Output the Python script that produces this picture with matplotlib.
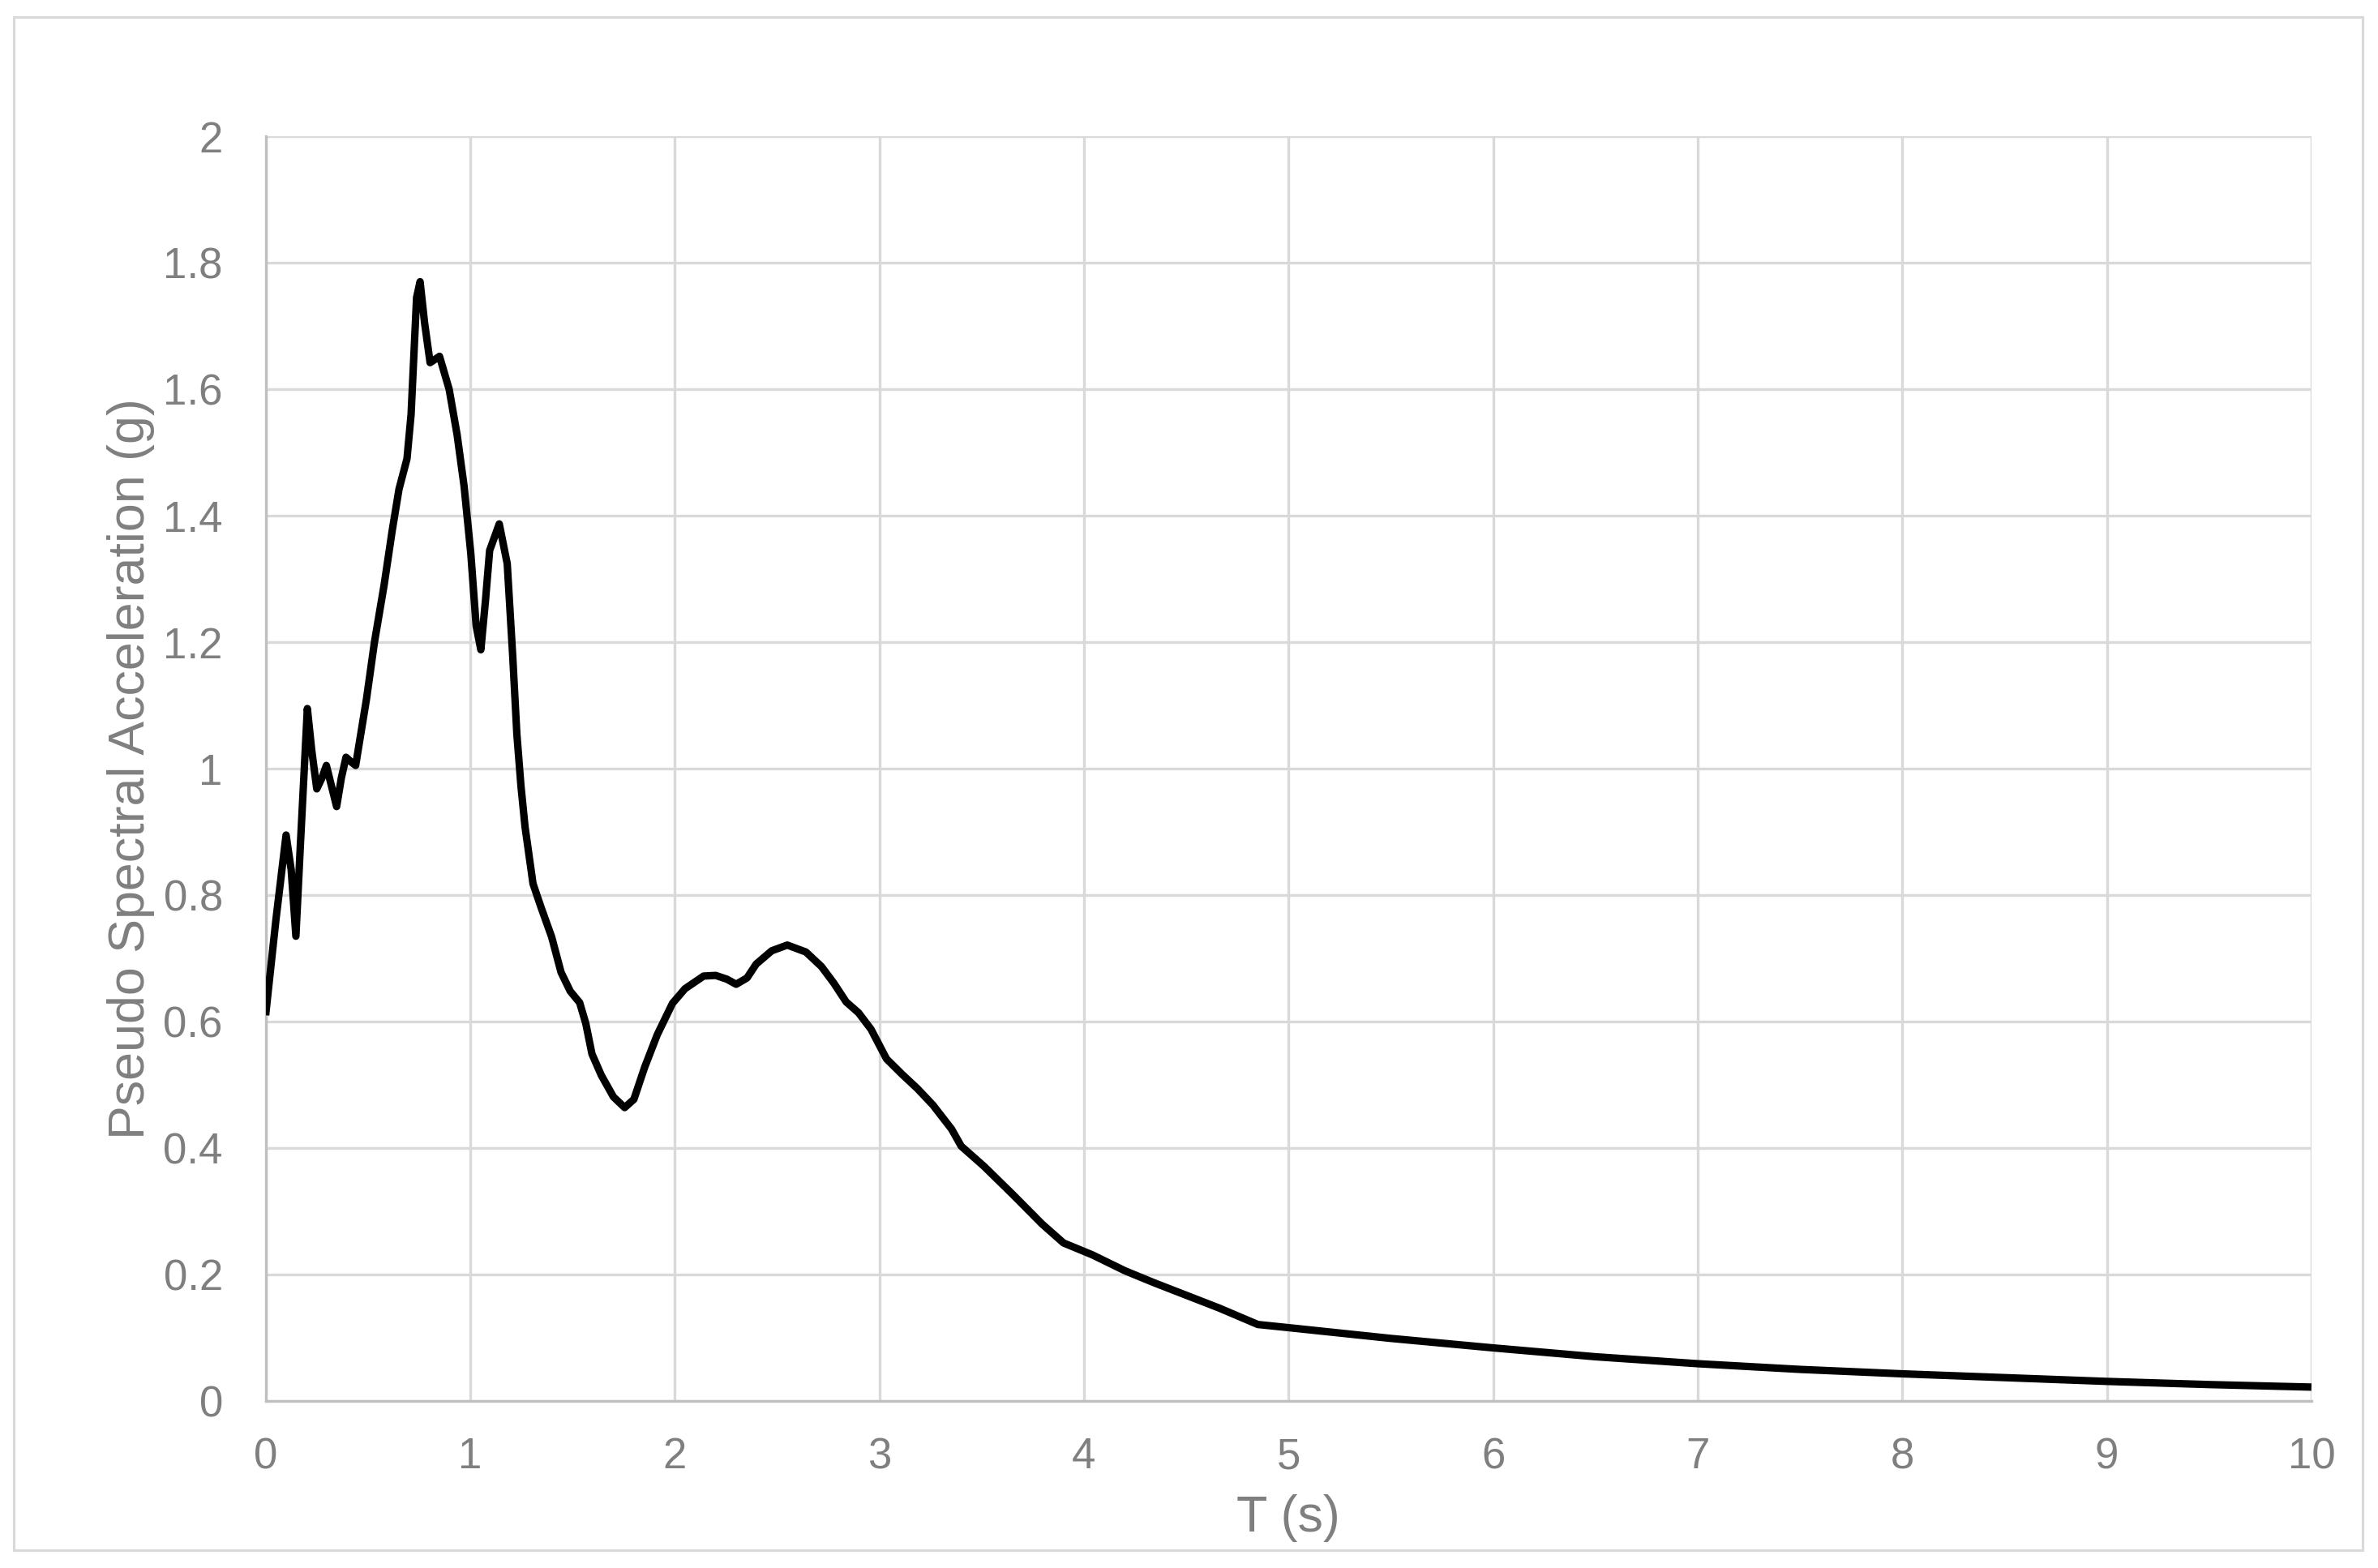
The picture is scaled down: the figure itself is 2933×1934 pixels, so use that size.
import matplotlib
matplotlib.use("Agg")
import matplotlib.pyplot as plt
from matplotlib.patches import Rectangle

plt.rcParams['font.family'] = ['Liberation Sans', 'DejaVu Sans']

period_s = [0.0, 0.05, 0.10, 0.125, 0.148, 0.17, 0.204, 0.225, 0.25, 0.275, 0.297, 0.32, 0.347, 0.37,
            0.393, 0.42, 0.44, 0.493, 0.532, 0.579, 0.619, 0.652, 0.691, 0.711, 0.738, 0.755, 0.777,
            0.804, 0.85, 0.897, 0.936, 0.970, 1.003, 1.029, 1.052, 1.075, 1.095, 1.142, 1.181, 1.208,
            1.228, 1.248, 1.268, 1.307, 1.347, 1.398, 1.444, 1.489, 1.535, 1.565, 1.595, 1.641, 1.70,
            1.755, 1.80, 1.853, 1.914, 1.989, 2.05, 2.141, 2.20, 2.255, 2.30, 2.353, 2.398, 2.474,
            2.55, 2.641, 2.717, 2.777, 2.838, 2.898, 2.959, 3.035, 3.11, 3.186, 3.262, 3.353, 3.40,
            3.512, 3.654, 3.795, 3.90, 4.042, 4.20, 4.343, 4.502, 4.661, 4.85, 5.0, 5.5, 6.0, 6.5,
            7.0, 7.5, 8.0, 8.5, 9.0, 9.5, 10.0]
psa_g = [0.61, 0.76, 0.895, 0.84, 0.735, 0.88, 1.095, 1.03, 0.968, 0.985, 1.005, 0.975, 0.94, 0.985,
         1.018, 1.01, 1.005, 1.11, 1.20, 1.29, 1.377, 1.442, 1.49, 1.56, 1.745, 1.77, 1.705,
         1.642, 1.652, 1.60, 1.528, 1.447, 1.34, 1.226, 1.188, 1.267, 1.345, 1.387, 1.324, 1.177,
         1.055, 0.973, 0.908, 0.818, 0.780, 0.734, 0.678, 0.648, 0.630, 0.597, 0.549, 0.515, 0.481,
         0.464, 0.477, 0.528, 0.579, 0.629, 0.652, 0.672, 0.673, 0.667, 0.659, 0.669, 0.691, 0.712,
         0.721, 0.710, 0.687, 0.661, 0.631, 0.614, 0.588, 0.541, 0.517, 0.494, 0.468, 0.430, 0.403,
         0.371, 0.326, 0.280, 0.250, 0.231, 0.206, 0.187, 0.167, 0.147, 0.121, 0.116, 0.099, 0.084, 0.070,
         0.059, 0.050, 0.043, 0.037, 0.031, 0.026, 0.022]

x_ticks = [0, 1, 2, 3, 4, 5, 6, 7, 8, 9, 10]
y_ticks = [0, 0.2, 0.4, 0.6, 0.8, 1.0, 1.2, 1.4, 1.6, 1.8, 2.0]
y_tick_labels = ['0', '0.2', '0.4', '0.6', '0.8', '1', '1.2', '1.4', '1.6', '1.8', '2']

grid_c = '#d9d9d9'
text_c = '#7f7f7f'

fig = plt.figure(figsize=(2933 / 200, 1934 / 200), dpi=200)
ax = fig.add_axes([0.1117, 0.1065, 0.9720 - 0.1117, 0.9131 - 0.1065])

ax.plot(period_s, psa_g, color='black', lw=3.3, solid_joinstyle='round', solid_capstyle='butt', zorder=3)

ax.set_xlim(0, 10)
ax.set_ylim(0, 2)
ax.set_xticks(x_ticks)
ax.set_yticks(y_ticks)
ax.set_yticklabels(y_tick_labels)
ax.grid(True, color=grid_c, lw=1.2, zorder=0)
ax.set_axisbelow(True)
for s in ['top', 'right']:
    ax.spines[s].set_visible(False)
for s in ['left', 'bottom']:
    ax.spines[s].set_color('#bfbfbf')
    ax.spines[s].set_linewidth(1.2)
ax.tick_params(length=0, labelsize=19, colors=text_c)
ax.tick_params(axis='y', pad=19)
ax.tick_params(axis='x', pad=16)

ax.set_xlabel('T (s)', fontsize=22.6, color=text_c)
ax.set_ylabel('Pseudo Spectral Acceleration (g)', fontsize=22.6, color=text_c)
ax.xaxis.set_label_coords(0.5, -0.074)
ax.yaxis.set_label_coords(-0.054, 0.5)

fig.patches.append(Rectangle((17 / 2933, 1 - 1912 / 1934), (2914 - 17) / 2933, (1912 - 21) / 1934,
                             transform=fig.transFigure, fill=False, edgecolor=grid_c, lw=1.1))

fig.savefig('out.png', dpi=200, facecolor='white')
